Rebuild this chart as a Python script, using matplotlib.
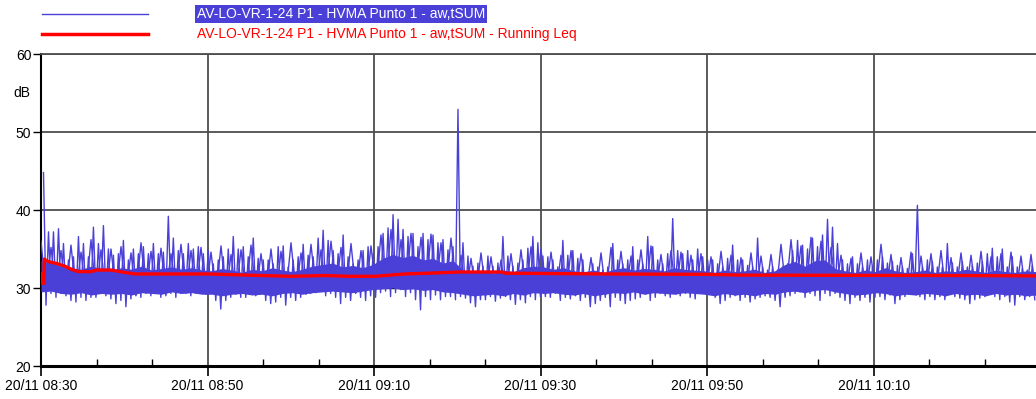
import numpy as np
import matplotlib.pyplot as plt
from matplotlib.lines import Line2D
from matplotlib.ticker import MultipleLocator

plt.rcParams['font.family'] = ['Liberation Sans', 'DejaVu Sans']

# minutes after 08:30 covered by the record
span_min = 119.5

# aw,tSUM per ~0.6 min block: block maximum / block minimum (dB)
blk_hi = [44.8, 37.2, 37.2, 37.6, 35.7, 33.6, 34.0, 36.6, 35.7, 34.0, 37.8, 35.7, 38.0, 35.0, 34.2, 34.4, 36.1,
          33.6, 35.0, 34.4, 35.3, 34.4, 35.7, 34.4, 34.6, 39.2, 36.4, 34.8, 34.4, 35.7, 35.0, 35.3, 34.4, 34.8,
          33.1, 33.6, 34.0, 35.0, 36.6, 35.0, 35.3, 34.0, 36.4, 33.8, 33.6, 33.6, 33.1, 35.3, 35.4, 32.7, 33.6,
          34.0, 35.6, 34.2, 34.0, 36.4, 37.4, 36.1, 34.8, 34.4, 36.8, 34.0, 33.1, 33.6, 34.8, 35.3, 34.4,
          35.3, 37.0, 37.7, 39.4, 38.8, 37.5, 36.6, 37.0, 35.3, 37.0, 36.2, 36.8, 35.8, 36.2, 34.9, 35.3, 52.9,
          35.8, 34.1, 32.8, 33.2, 32.8, 34.1, 32.8, 33.2, 36.6, 34.1, 32.8, 33.2, 33.6, 35.1, 36.6, 35.8, 34.1,
          34.0, 33.6, 32.7, 36.1, 34.2, 34.8, 33.8, 33.6, 31.8, 33.1, 32.7, 32.3, 32.7, 35.7, 33.6, 33.1, 33.6,
          35.3, 33.6, 33.1, 36.6, 35.3, 33.6, 33.1, 34.4, 38.9, 34.8, 34.4, 34.8, 33.6, 35.0, 34.0, 33.6,
          33.6, 33.1, 32.7, 33.8, 35.5, 33.6, 33.6, 32.9, 32.7, 36.4, 32.7, 32.3, 32.7, 32.3, 32.7, 33.1, 34.8,
          36.1, 35.5, 35.0, 36.4, 35.3, 36.8, 38.8, 37.8, 35.7, 33.6, 33.1, 34.0, 33.1, 32.7, 33.6, 32.7,
          33.6, 34.0, 33.2, 33.4, 32.9, 32.7, 32.5, 34.4, 40.6, 32.7, 33.6, 33.4, 32.7, 32.7, 35.7, 33.2,
          32.7, 33.4, 32.7, 32.9, 33.2, 33.4, 34.4, 35.1, 34.0, 35.0, 32.7, 34.0, 32.7, 32.5, 32.3, 32.9]
blk_lo = [27.8, 29.3, 28.8, 29.3, 29.0, 28.4, 28.2, 28.8, 28.4, 28.8, 28.8, 29.3, 29.0, 28.6, 28.0, 28.4, 27.6,
          28.6, 29.0, 28.8, 29.3, 29.0, 29.5, 28.8, 29.0, 29.3, 28.8, 29.3, 29.5, 29.0, 29.3, 29.5, 29.5, 29.3,
          28.4, 27.3, 28.4, 28.8, 29.3, 28.8, 28.8, 29.3, 29.0, 29.5, 28.4, 28.0, 28.2, 28.8, 27.8, 28.8, 28.4,
          28.8, 29.3, 29.3, 29.5, 29.7, 29.0, 29.3, 28.8, 28.0, 28.8, 28.4, 29.3, 28.8, 28.4, 29.0, 28.8,
          29.4, 29.6, 28.9, 29.4, 29.8, 28.9, 29.4, 28.5, 27.2, 28.9, 28.5, 29.1, 28.5, 28.9, 28.9, 28.5, 28.9,
          28.7, 28.1, 27.6, 28.5, 28.5, 28.9, 28.3, 28.7, 28.9, 28.5, 27.9, 28.5, 28.1, 28.9, 28.5, 28.9, 28.9,
          28.8, 29.3, 28.4, 28.8, 28.6, 29.0, 28.4, 28.8, 27.6, 28.0, 28.4, 28.8, 27.6, 28.8, 28.4, 28.0, 28.4,
          28.6, 28.8, 29.3, 28.4, 28.8, 29.3, 29.0, 28.8, 29.3, 29.0, 29.3, 28.8, 28.6, 29.3, 29.5, 29.3,
          28.8, 28.0, 28.4, 28.8, 29.0, 28.4, 28.8, 28.2, 28.6, 28.8, 29.0, 28.8, 28.4, 27.6, 28.8, 29.0, 29.3,
          29.5, 28.8, 29.3, 29.0, 28.4, 29.3, 29.0, 29.3, 28.8, 28.4, 28.0, 28.8, 28.4, 28.8, 28.2, 28.8,
          28.9, 28.5, 29.1, 28.0, 28.5, 28.9, 29.3, 30.0, 28.9, 28.5, 28.9, 28.5, 28.9, 28.5, 29.3, 28.9,
          28.7, 28.5, 28.0, 28.5, 28.7, 28.9, 29.3, 28.9, 28.5, 28.9, 28.2, 27.8, 28.9, 28.5, 28.9, 28.5]

# per ~1.2 min block: dense band (low / high) and secondary peak (dB)
core_hi = [33.5, 33.2, 32.8, 32.6, 32.4, 32.8, 32.5, 32.3,
           32.6, 32.4, 32.8, 32.3, 32.5, 32.7, 32.4, 32.6, 32.3,
           32.2, 32.5, 32.3, 32.0, 32.4, 32.2, 32.6, 32.3, 32.1, 32.4,
           32.8, 33.0, 33.2, 32.7, 32.9, 32.6, 33.0,
           33.8, 34.3, 33.9, 34.2, 33.6, 33.8, 33.2, 33.5,
           32.3, 32.0, 32.2, 31.9, 32.3, 32.1, 32.6, 32.8,
           32.7, 32.4, 32.6, 32.2, 32.1, 32.3, 32.0, 32.4, 32.6, 32.3, 32.5, 32.4, 32.2, 32.6, 32.4, 32.3,
           32.2, 32.0, 32.3, 32.1, 32.2, 32.4, 32.0, 32.2,
           33.0, 33.4, 32.8, 33.5, 33.6, 32.5,
           32.2, 32.0, 32.3, 32.1, 32.6, 32.2, 32.0, 32.1, 32.3, 32.0,
           32.2, 32.1, 32.4, 32.2, 32.0, 32.3, 32.1, 32.0, 32.2, 32.1]
core_lo = [29.5, 29.6, 29.3, 29.2, 29.4, 29.1, 29.3, 29.2,
           29.3, 29.1, 29.4, 29.3, 29.2, 29.5, 29.3, 29.4, 29.2,
           29.2, 29.0, 29.2, 29.3, 29.1, 29.2, 29.0, 29.3, 29.4, 29.2,
           29.4, 29.5, 29.6, 29.5, 29.4, 29.6, 29.8,
           29.9, 30.0, 29.8, 29.9, 29.7, 29.8, 29.5, 29.4,
           29.2, 29.0, 29.1, 29.2, 29.0, 29.3, 29.1, 29.4,
           29.3, 29.4, 29.2, 29.1, 29.3, 29.0, 29.2, 29.4, 29.3, 29.5, 29.2, 29.4, 29.3, 29.2, 29.4, 29.3,
           29.2, 29.0, 29.3, 29.1, 29.2, 29.0, 29.3, 29.2,
           29.5, 29.6, 29.4, 29.7, 29.8, 29.5,
           29.3, 29.1, 29.2, 29.4, 29.3, 29.0, 29.2, 29.1, 29.3, 29.2,
           29.0, 29.3, 29.1, 29.2, 29.0, 29.3, 29.1, 29.2, 29.0, 29.1]
sub_hi = [36.0, 35.2, 34.8, 35.5, 34.6, 36.2, 34.9, 35.0,
          35.3, 34.5, 35.8, 34.7, 35.1, 34.4, 35.6, 34.8, 35.2,
          34.6, 35.4, 34.3, 34.9, 35.5, 34.4, 35.0, 34.7, 35.8, 34.5,
          35.6, 34.9, 36.0, 35.2, 35.7, 34.8, 35.4,
          36.8, 37.5, 36.2, 37.0, 36.5, 36.9, 35.8, 36.4,
          34.2, 33.8, 34.5, 34.0, 33.6, 34.4, 34.9, 35.3,
          35.0, 34.6, 34.2, 34.8, 34.4, 33.9, 34.5, 35.2, 34.7, 34.1, 34.9, 35.4, 34.3, 34.8, 34.6, 34.2,
          34.4, 34.0, 34.7, 34.2, 33.9, 34.5, 34.1, 34.3,
          35.6, 36.2, 35.4, 36.5, 36.0, 35.2,
          34.2, 33.8, 34.5, 34.0, 35.6, 34.3, 33.9, 34.6, 34.1, 34.4,
          34.8, 33.9, 34.5, 34.2, 34.7, 34.0, 34.4, 34.6, 34.1, 34.3]

# running Leq (minutes after 08:30, dB)
leq_min = [0.0, 0.15, 0.35, 0.4, 0.84, 2.0, 2.85, 3.65, 4.45, 6.05, 6.65, 8.4, 10.05, 11.25, 20.0, 26.5,
           30.1, 34.1, 36.9, 40.1, 43.7, 46.6, 50.2, 55.4, 55.7, 67.7, 80.0, 84.4, 110.0, 119.5]
leq_db = [31.8, 30.6, 30.6, 33.7, 33.4, 33.1, 32.8, 32.4, 32.1, 32.1, 32.3, 32.3, 32.0, 31.8, 31.8, 31.6,
          31.5, 31.6, 31.5, 31.5, 31.8, 31.9, 32.05, 32.05, 31.9, 31.8, 31.75, 31.65, 31.6, 31.55]

tick_labels = ['20/11 08:30', '20/11 08:50', '20/11 09:10', '20/11 09:30', '20/11 09:50', '20/11 10:10']
series_names = ['AV-LO-VR-1-24 P1 - HVMA Punto 1 - aw,tSUM',
                'AV-LO-VR-1-24 P1 - HVMA Punto 1 - aw,tSUM - Running Leq']

blue = '#4a40d8'
red = '#ff0000'

sig = np.column_stack([blk_hi, blk_lo]).ravel()
t = (np.arange(sig.size) + 1.0) * span_min / (sig.size + 0.5)

nb = len(core_hi)
t_core = np.arange(nb) * span_min / (nb - 1)
sub = np.column_stack([sub_hi, core_lo]).ravel()
t_sub = np.arange(sub.size) * span_min / (sub.size - 1)

W, H = 1036, 399
fig = plt.figure(figsize=(W / 100, H / 100), dpi=100)
ax = fig.add_axes([41 / W, 33 / H, 995 / W, 312 / H])

ax.fill_between(t_core, core_lo, core_hi, color=blue, lw=0, zorder=3)
ax.plot(t_sub, sub, color=blue, lw=1.0, zorder=3)
ax.plot(t, sig, color=blue, lw=1.0, zorder=3)
ax.plot(leq_min, leq_db, color=red, lw=2.4, zorder=4)

ax.set_xlim(0, span_min)
ax.set_ylim(20, 60)
ax.set_yticks([20, 30, 40, 50, 60])
ax.set_xticks(np.arange(len(tick_labels)) * 20)
ax.set_xticklabels(tick_labels)
ax.xaxis.set_minor_locator(MultipleLocator(20 / 3))

ax.grid(True, which='major', color='#4d4d4d', lw=1.3)
ax.axhline(30, color='black', lw=1.0, zorder=1)
ax.set_axisbelow(True)

ax.tick_params(axis='y', direction='out', length=6, width=1, labelsize=10, pad=1)
ax.tick_params(axis='x', which='major', direction='out', length=7, width=1.2, labelsize=10, pad=2)
ax.tick_params(axis='x', which='minor', direction='in', length=5, width=1)

ax.spines['right'].set_visible(False)
ax.spines['top'].set_color('#4d4d4d')
ax.spines['top'].set_linewidth(1.3)
ax.spines['left'].set_linewidth(1.5)
ax.spines['bottom'].set_linewidth(2.2)

fig.text(22 / W, 1 - 93 / H, 'dB', ha='center', va='center', fontsize=10)

# legend block above the plot
for y, c, lw in [(14, blue, 1.0), (34, red, 2.5)]:
    fig.add_artist(Line2D([42 / W, 148 / W], [1 - y / H] * 2, transform=fig.transFigure, color=c, lw=lw))
fig.text(197 / W, 1 - 14 / H, series_names[0], ha='left', va='center', fontsize=10, color='white',
         bbox=dict(boxstyle='square,pad=0.12', facecolor=blue, edgecolor='none'))
fig.text(197 / W, 1 - 34 / H, series_names[1], ha='left', va='center', fontsize=10, color=red)

fig.savefig('out.png', dpi=100)
